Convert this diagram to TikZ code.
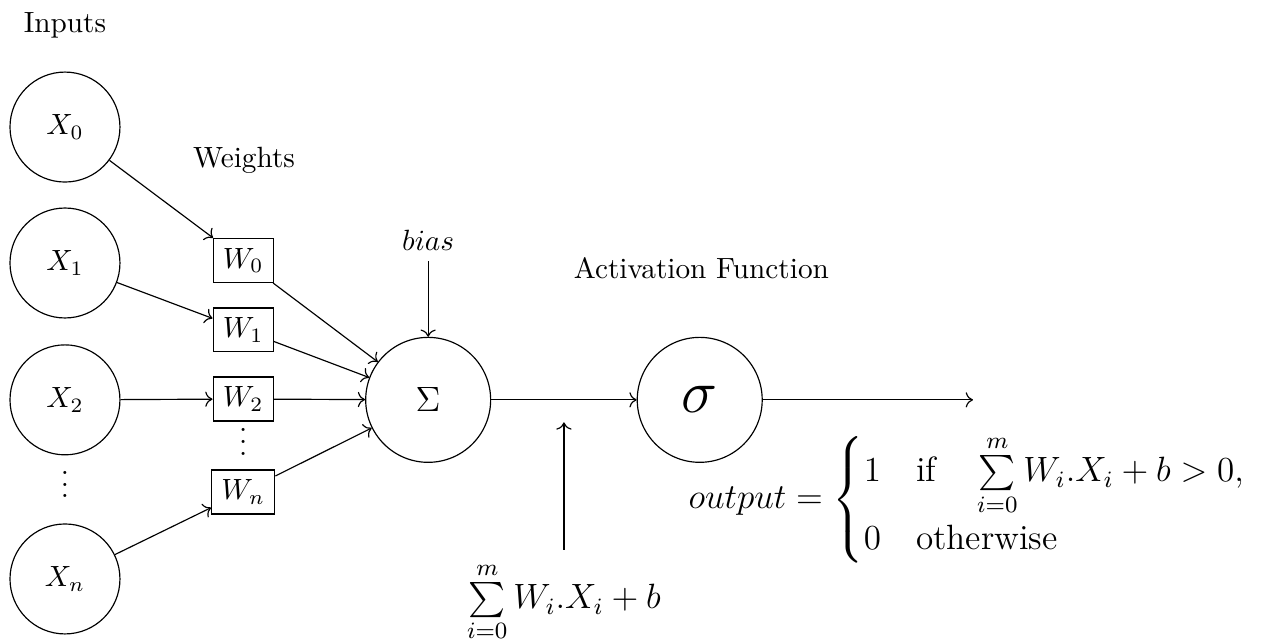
\documentclass[tikz,border=0pt]{standalone}
\usepackage{amssymb}
\usepackage{amsmath}
\usepackage{tikz}
\usetikzlibrary{arrows.meta, positioning, calc}

\begin{document}
\begin{tikzpicture}[
		neuron/.style={circle, draw, minimum size=1.32cm, inner sep=0pt},
		bigneuron/.style={circle, draw, minimum size=1.5cm, inner sep=0pt},
		weightbox/.style={draw, rectangle},
		conn/.style={->}
	]
	\useasboundingbox (0,0) rectangle (15.33,-7.695);
	% inputs
	\node (inputs) at (0.78,-0.30) {Inputs};
	\node[neuron] (x0) at (0.78,-1.525) {$X_0$};
	\node[neuron] (x1) at (0.78,-3.157) {$X_1$};
	\node[neuron] (x2) at (0.78,-4.80) {$X_2$};
	\node (xdots) at (0.78,-5.71) {$\vdots$};
	\node[neuron] (xn) at (0.78,-6.95) {$X_n$};
	% weights
	\node (weights) at (2.93,-1.92) {Weights};
	\node[weightbox] (w0) at (2.92,-3.127) {$W_0$};
	\node[weightbox] (w1) at (2.92,-3.96) {$W_1$};
	\node[weightbox] (w2) at (2.92,-4.79) {$W_2$};
	\node (wdots) at (2.92,-5.20) {$\vdots$};
	\node[weightbox] (wn) at (2.92,-5.906) {$W_n$};
	% sum and activation
	\node[bigneuron] (sum) at (5.14,-4.80) {\large $\Sigma$};
	\node (bias) at (5.14,-2.89) {$bias$};
	\node (actlabel) at (8.42,-3.22) {Activation Function};
	\node[bigneuron] (act) at (8.40,-4.80) {\huge $\sigma$};
	\coordinate (out) at (11.68,-4.80);
	\draw[conn] (x0) -- (w0);
	\draw[conn] (x1) -- (w1);
	\draw[conn] (x2) -- (w2);
	\draw[conn] (xn) -- (wn);
	\draw[conn] (w0) -- (sum);
	\draw[conn] (w1) -- (sum);
	\draw[conn] (w2) -- (sum);
	\draw[conn] (wn) -- (sum);
	\draw[conn] (bias) -- (sum);
	\draw[conn] (sum) -- (act);
	\draw[conn] (act) -- (out);
	% weighted sum
	\coordinate (mid) at ($(sum.east)!0.5!(act.west)$);
	\coordinate (midtop) at ($(mid)+(0,-0.27)$);
	\coordinate (midbot) at ($(mid)+(0,-1.80)$);
	\draw[conn] (midbot) -- (midtop);
	\node[below, yshift=-0.02cm] (wsum) at (midbot) {\large $\sum\limits_{i=0}^{m} W_i.X_i + b$};
	\node (output) at (11.62,-6.0) {\large $output = \begin{cases} 1 & \text{if}\quad \sum\limits_{i=0}^{m} W_i.X_i + b > 0, \\ 0 & \text{otherwise} \end{cases}$};
\end{tikzpicture}
\end{document}
